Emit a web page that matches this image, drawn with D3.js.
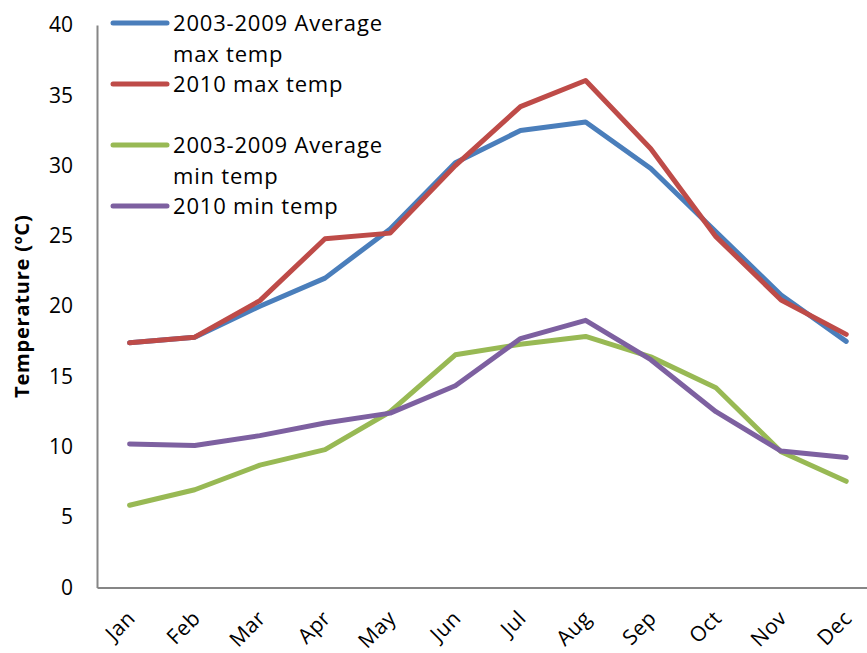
<!DOCTYPE html>
<html lang="en">
    <head>
        <meta charset="utf-8"/>
        <script src="https://d3js.org/d3.v7.min.js"></script>
        <style>
            body { margin: 0; background: #fff; }
            text { font-family: "Open Sans", sans-serif; fill: #000; }
        </style>
    </head>
    <body>
        <div id="chart"></div>
    </body>
    <script>
        var months = ["Jan", "Feb", "Mar", "Apr", "May", "Jun", "Jul", "Aug", "Sep", "Oct", "Nov", "Dec"];
        var avgMax = [17.4, 17.8, 20.0, 22.0, 25.5, 30.2, 32.5, 33.1, 29.8, 25.3, 20.8, 17.5];
        var max2010 = [17.4, 17.8, 20.4, 24.8, 25.2, 30.0, 34.2, 36.05, 31.2, 24.95, 20.45, 18.0];
        var avgMin = [5.85, 6.95, 8.7, 9.8, 12.5, 16.55, 17.3, 17.85, 16.4, 14.2, 9.65, 7.55];
        var min2010 = [10.2, 10.1, 10.8, 11.7, 12.4, 14.35, 17.7, 19.0, 16.2, 12.5, 9.7, 9.25];
        var yTicks = [0, 5, 10, 15, 20, 25, 30, 35, 40];

        var series = [
            { label: ["2003-2009 Average", "max temp"], values: avgMax, color: "#4a7ebb" },
            { label: ["2010 max temp"], values: max2010, color: "#be4b48" },
            { label: ["2003-2009 Average", "min temp"], values: avgMin, color: "#98b954" },
            { label: ["2010 min temp"], values: min2010, color: "#7d60a0" }
        ];

        var width = 867, height = 653;
        var plotLeft = 97, plotTop = 25, plotBottom = 587.5;

        var svg = d3.select("#chart")
            .append("svg")
                .attr("width", width)
                .attr("height", height);

        var x = d3.scaleBand()
            .domain(months)
            .range([plotLeft, plotLeft + 12 * 65.15]);

        var y = d3.scaleLinear()
            .domain([0, 40])
            .range([plotBottom, plotTop]);

        // y axis
        var yAxis = svg.append("g")
            .attr("transform", "translate(" + plotLeft + ",0)")
            .call(d3.axisLeft(y).tickValues(yTicks).tickSize(0).tickPadding(24));
        yAxis.select(".domain").attr("stroke", "#868686").attr("stroke-width", 2);
        yAxis.selectAll("text").style("font-size", "21px").attr("font-family", null);

        // x axis
        var xAxis = svg.append("g")
            .attr("transform", "translate(0," + plotBottom + ")")
            .call(d3.axisBottom(x).tickSize(0).tickPadding(0));
        xAxis.select(".domain").attr("stroke", "#868686").attr("stroke-width", 2);
        xAxis.selectAll("text")
            .style("font-size", "21px")
            .style("letter-spacing", "0.5px")
            .attr("font-family", null)
            .attr("text-anchor", "end")
            .attr("dy", null)
            .attr("y", 0)
            .attr("transform", "translate(7,32) rotate(-45)");

        svg.append("text")
            .attr("transform", "translate(29," + ((plotTop + plotBottom) / 2) + ") rotate(-90)")
            .attr("text-anchor", "middle")
            .style("font-size", "20px")
            .style("letter-spacing", "0.8px")
            .style("font-weight", "bold")
            .text("Temperature (ºC)");

        var line = d3.line()
            .x(function (d, i) { return x(months[i]) + x.bandwidth() / 2; })
            .y(function (d) { return y(d); });

        svg.selectAll(".series")
            .data(series)
            .enter()
            .append("path")
                .attr("class", "series")
                .attr("d", function (d) { return line(d.values); })
                .attr("fill", "none")
                .attr("stroke", function (d) { return d.color; })
                .attr("stroke-width", 5)
                .attr("stroke-linejoin", "round")
                .attr("stroke-linecap", "round");

        // legend
        var legendY = [23, 84, 145, 206];
        var legend = svg.selectAll(".legend")
            .data(series)
            .enter()
            .append("g")
                .attr("class", "legend")
                .attr("transform", function (d, i) { return "translate(113," + legendY[i] + ")"; });

        legend.append("line")
            .attr("x1", 0).attr("x2", 54)
            .attr("stroke", function (d) { return d.color; })
            .attr("stroke-width", 5)
            .attr("stroke-linecap", "round");

        legend.selectAll("text")
            .data(function (d) { return d.label; })
            .enter()
            .append("text")
                .attr("x", 60)
                .attr("y", function (d, i) { return i * 31 + 8; })
                .style("font-size", "22px")
                .style("letter-spacing", "0.8px")
                .text(function (d) { return d; });
    </script>
</html>
